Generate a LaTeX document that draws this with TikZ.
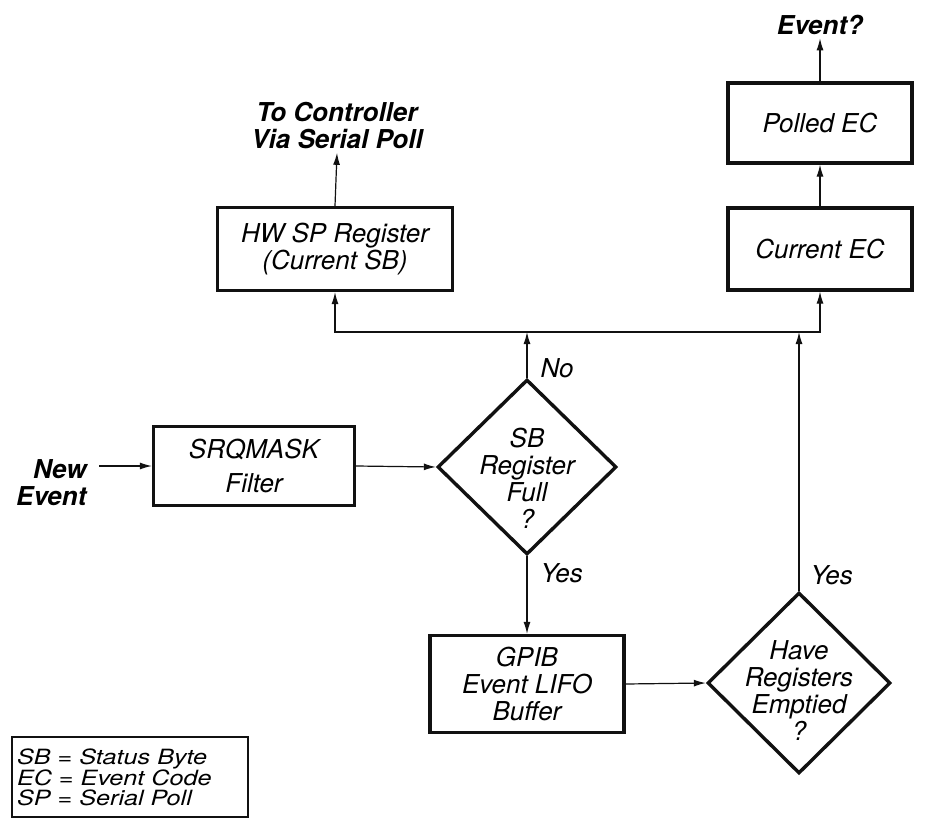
\documentclass[tikz,border=0pt]{standalone}
\usepackage{fontspec}
\setmainfont{TeX Gyre Heros}
\newfontfamily\keyfont[FakeStretch=1.2]{TeX Gyre Heros}
\usetikzlibrary{arrows.meta,shapes.geometric}
\definecolor{Line}{HTML}{111111}
\setlength{\lineskiplimit}{-20pt}

\begin{document}
\begin{tikzpicture}[x=1pt,y=-1pt,
 >={Latex[length=12pt,width=7pt]},
 font=\fontsize{26}{27}\selectfont\itshape,
 b/.style={draw=Line,line width=3.2pt,align=center,inner sep=0pt},
 d/.style={diamond,draw=Line,line width=3.4pt,inner sep=0pt},
 t/.style={align=center,font=\fontsize{26}{27}\selectfont\bfseries\itshape},
 l/.style={anchor=west,inner sep=0pt},
 a/.style={->,line width=1.2pt,draw=Line}
]
\useasboundingbox (0,0) rectangle (945,830);
% boxes
\node[b,minimum width=235pt,minimum height=83pt] (hwsp) at (335,249) {HW SP Register\\(Current SB)};
\node[b,minimum width=184pt,minimum height=82pt] (curec) at (820,249) {Current EC};
\node[b,minimum width=184pt,minimum height=80pt] (polec) at (820,123) {Polled EC};
\node[b,minimum width=201pt,minimum height=79pt] (srq) at (254,466) {SRQMASK\\[7pt]Filter};
\node[b,minimum width=194pt,minimum height=97pt] (lifo) at (527,684) {GPIB\\Event LIFO\\Buffer};
% decisions
\node[d,minimum width=179pt,minimum height=175pt] (sbfull) at (527,467) {};
\node[align=center] (sbtext) at (527,478) {SB\\Register\\Full\\?};
\node[d,minimum width=183pt,minimum height=181pt] (empty) at (799,683) {};
\node[align=center] (emtext) at (799,691) {Have\\Registers\\Emptied\\?};
% free texts
\node[t] (toctl) at (337,126) {To Controller\\Via Serial Poll};
\node[t] (evq) at (820,25) {Event?};
\node[t,align=right,anchor=east] (newev) at (90,483) {New\\Event};
\node[draw=Line,line width=1.2pt,minimum width=236pt,minimum height=80pt,text width=226pt,inner sep=5pt,align=left,font=\keyfont\fontsize{21}{19.5}\selectfont\itshape] (key) at (130,777) {SB = Status Byte\\EC = Event Code\\SP = Serial Poll};
\coordinate (bus) at (527,332);
% connectors
\draw[a] (hwsp.north)--(toctl.south);\draw[a] (curec.north)--(polec.south);\draw[a] (polec.north)--(evq.south);
\draw[a,<->] (hwsp.south)--(hwsp.south|-bus)-|(curec.south);
\draw[a] ([xshift=9pt]newev.east|-srq.west)--(srq.west);\draw[a] (srq.east)--(sbfull.west);
\draw[a] (sbfull.north)--node[l,pos=.21,xshift=13pt]{No}(sbfull.north|-bus);
\draw[a] (sbfull.south)--node[l,pos=.22,xshift=13pt]{Yes}(lifo.north);
\draw[a] (lifo.east)--(empty.west);
\draw[a] (empty.north)--node[l,pos=.06,xshift=11pt]{Yes}(empty.north|-bus);
\end{tikzpicture}
\end{document}
